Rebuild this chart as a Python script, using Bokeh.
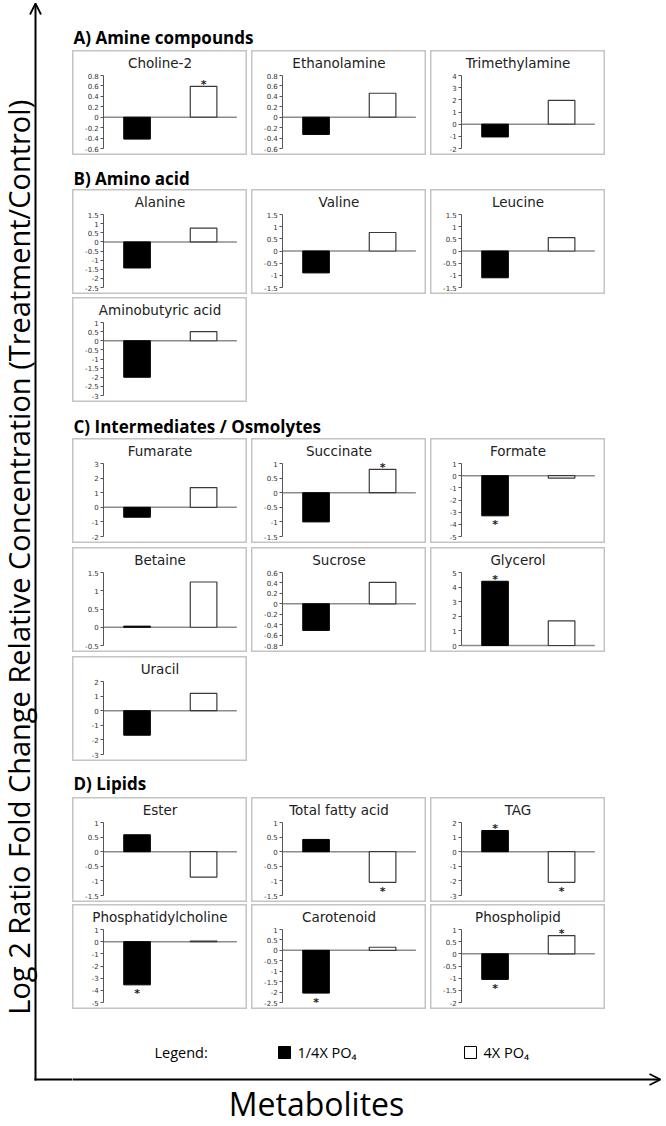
import math
from bokeh.plotting import figure
from bokeh.layouts import row, column
from bokeh.models import (Range1d, LinearAxis, FixedTicker, NumeralTickFormatter,
                          Arrow, OpenHead, Spacer)
from bokeh.core.properties import value
from bokeh.embed import file_html
from bokeh.resources import INLINE

# ---------------- data ----------------
treatments = ["1/4X PO\u2084", "4X PO\u2084"]
sections = ["A)  Amine compounds", "B)  Amino acid",
            "C)  Intermediates / Osmolytes", "D)  Lipids"]
metabolites = ["Choline-2", "Ethanolamine", "Trimethylamine",
               "Alanine", "Valine", "Leucine", "Aminobutyric acid",
               "Fumarate", "Succinate", "Formate", "Betaine", "Sucrose", "Glycerol", "Uracil",
               "Ester", "Total fatty acid", "TAG", "Phosphatidylcholine", "Carotenoid", "Phospholipid"]
section_of = [0, 0, 0, 1, 1, 1, 1, 2, 2, 2, 2, 2, 2, 2, 3, 3, 3, 3, 3, 3]
quarter_po4 = [-0.42, -0.33, -1.05, -1.43, -0.90, -1.10, -2.00,
               -0.68, -1.00, -3.30, 0.03, -0.51, 4.40, -1.68,
               0.58, 0.42, 1.45, -3.55, -2.05, -1.05]
four_po4 = [0.59, 0.46, 1.95, 0.75, 0.76, 0.55, 0.50,
            1.35, 0.80, -0.20, 1.24, 0.41, 1.68, 1.18,
            -0.87, -1.05, -2.10, 0.05, 0.15, 0.75]
quarter_sig = [False, False, False, False, False, False, False,
               False, False, True, False, False, True, False,
               False, False, True, True, True, True]
four_sig = [True, False, False, False, False, False, False,
            False, True, False, False, False, False, False,
            False, True, True, False, False, True]
axis_min = [-0.6, -0.6, -2, -2.5, -1.5, -1.5, -3,
            -2, -1.5, -5, -0.5, -0.8, 0, -3,
            -1.5, -1.5, -3, -5, -2.5, -2]
axis_max = [0.8, 0.8, 4, 1.5, 1.5, 1.5, 1,
            3, 1, 1, 1.5, 0.6, 5, 2,
            1, 1, 2, 1, 1, 1]
axis_step = [0.2, 0.2, 1, 0.5, 0.5, 0.5, 0.5,
             1, 0.5, 1, 0.5, 0.2, 1, 1,
             0.5, 0.5, 1, 1, 0.5, 0.5]
y_label = "Log 2 Ratio Fold Change Relative Concentration  (Treatment/Control)"
x_label = "Metabolites"
legend_title = "Legend:"

# ---------------- styling / layout ----------------
PW, PH = 175, 105
PAD_TOP, PAD_BOT = 25, 7
X0, X1 = 0.03, 2.66
AX_X = 0.5
BAR_W = 0.4
SVG = "svg"
TITLE_FONT = value("DejaVu Sans")
TICK_FONT = "DejaVu Sans"
MAIN_W = 592
XL, XR = 72, 72 + MAIN_W
TOTAL_H = 1126


def bare(width, height, xr, yr):
    p = figure(width=width, height=height, x_range=xr, y_range=yr,
               x_axis_type=None, y_axis_type=None, toolbar_location=None,
               output_backend=SVG, min_border=0, outline_line_color=None,
               background_fill_color="white", border_fill_color="white")
    return p


def panel(i):
    tmin, tmax, tstep = axis_min[i], axis_max[i], axis_step[i]
    s = (tmax - tmin) / (PH - PAD_TOP - PAD_BOT)
    y0, y1 = tmin - PAD_BOT * s, tmax + PAD_TOP * s
    p = figure(width=PW, height=PH, x_range=Range1d(X0, X1), y_range=Range1d(y0, y1),
               x_axis_type=None, y_axis_type=None, toolbar_location=None,
               output_backend=SVG, min_border=0,
               outline_line_color="#c4c4c4", outline_line_width=2,
               background_fill_color="white", border_fill_color="white")
    n = int(round((tmax - tmin) / tstep))
    ticks = [round(tmin + k * tstep, 3) for k in range(n + 1)]
    ax = LinearAxis(fixed_location=AX_X, bounds=(tmin, tmax),
                    ticker=FixedTicker(ticks=ticks),
                    formatter=NumeralTickFormatter(format="0.[0]"),
                    major_tick_in=0, major_tick_out=3,
                    minor_tick_line_color=None,
                    axis_line_color="#555555", major_tick_line_color="#555555",
                    major_label_text_font=TICK_FONT,
                    major_label_text_font_size="7px",
                    major_label_text_color="#333333",
                    major_label_standoff=2)
    p.add_layout(ax, "left")
    xs = [k + 1 for k in range(len(treatments))]
    p.segment(x0=[AX_X], y0=[0], x1=[len(treatments) + 0.5], y1=[0],
              line_color="#8c8c8c", line_width=1.5)
    p.vbar(x=[xs[0]], top=[quarter_po4[i]], bottom=0, width=BAR_W,
           fill_color="black", line_color="black", line_width=1)
    p.vbar(x=[xs[1]], top=[four_po4[i]], bottom=0, width=BAR_W,
           fill_color="white", line_color="#3a3a3a", line_width=1.2)
    p.text(x=[(X0 + X1) / 2], y=[y1 - 12.5 * s], text=[metabolites[i]],
           text_align="center", text_baseline="middle", text_font=TITLE_FONT,
           text_font_size="13.5px", text_color="#222222")
    for xv, v, sig in ((xs[0], quarter_po4[i], quarter_sig[i]), (xs[1], four_po4[i], four_sig[i])):
        if sig:
            p.text(x=[xv], y=[v], text=["*"], text_align="center",
                   text_baseline="alphabetic", y_offset=(-2 if v >= 0 else 9),
                   text_font=value("DejaVu Sans"), text_font_style="bold",
                   text_font_size="11px", text_color="#222222")
    return p


def heading(text, top, bottom, cy):
    p = bare(MAIN_W, bottom - top, Range1d(XL, XR), Range1d(bottom, top))
    p.text(x=[73], y=[cy], text=[text], text_baseline="middle",
           text_font=value("Open Sans"), text_font_style="bold",
           text_font_size="17px", text_color="black")
    return p


# heading placement (screen px): top, bottom, text centre
head_geo = [(0, 50, 37), (155, 189, 178), (402, 438, 426), (761, 797, 783)]
row_gap = [0, 3, 4, 2]

main = []
for si, title in enumerate(sections):
    t, b, cy = head_geo[si]
    main.append(heading(title, t, b, cy))
    idx = [k for k, s in enumerate(section_of) if s == si]
    rows = [idx[k:k + 3] for k in range(0, len(idx), 3)]
    for ri, r in enumerate(rows):
        if ri > 0:
            main.append(Spacer(width=MAIN_W, height=row_gap[si]))
        main.append(row([panel(k) for k in r], spacing=4))

# legend strip (y 1009..1072)
lg = bare(MAIN_W, 63, Range1d(XL, XR), Range1d(1072, 1009))
leg_font = value("Liberation Sans Narrow, Open Sans")
lg.text(x=[154], y=[1052], text=[legend_title], text_baseline="middle",
        text_font=leg_font, text_font_size="14.5px", text_color="black")
lg.scatter(x=[284, 470], y=[1052, 1052], marker="square", size=12,
           fill_color=["black", "white"], line_color="black", line_width=1)
lg.text(x=[297, 483], y=[1052, 1052], text=treatments, text_baseline="middle",
        text_font=leg_font, text_font_size="14.5px", text_color="black")
main.append(lg)

# bottom strip with the x arrow and label (y 1072..1126)
bf = bare(MAIN_W, TOTAL_H - 1072, Range1d(XL, XR), Range1d(TOTAL_H, 1072))
bf.add_layout(Arrow(x_start=71, y_start=1079, x_end=660, y_end=1079,
                    line_width=2, line_color="black",
                    end=OpenHead(size=11, line_width=1.8, line_color="black")))
bf.text(x=[316], y=[1124], text=[x_label], text_align="center",
        text_baseline="bottom", text_font=value("Open Sans"),
        text_font_size="32px", text_color="black")
main.append(bf)

# left strip with the y arrow and label (x 0..72)
lf = bare(72, TOTAL_H, Range1d(0, 72), Range1d(TOTAL_H, 0))
lf.add_layout(Arrow(x_start=35, y_start=1080, x_end=35, y_end=3,
                    line_width=2, line_color="black",
                    end=OpenHead(size=11, line_width=1.8, line_color="black")))
lf.segment(x0=[34], y0=[1079], x1=[73], y1=[1079], line_width=2, line_color="black")
lf.text(x=[18], y=[553], text=[y_label], angle=math.pi / 2, text_align="center",
        text_baseline="alphabetic", text_font=value("Open Sans"),
        text_font_size="29px", text_color="black")

layout = row(lf, column(main, spacing=0), spacing=0)
open("out.html", "w").write(file_html(layout, INLINE))
